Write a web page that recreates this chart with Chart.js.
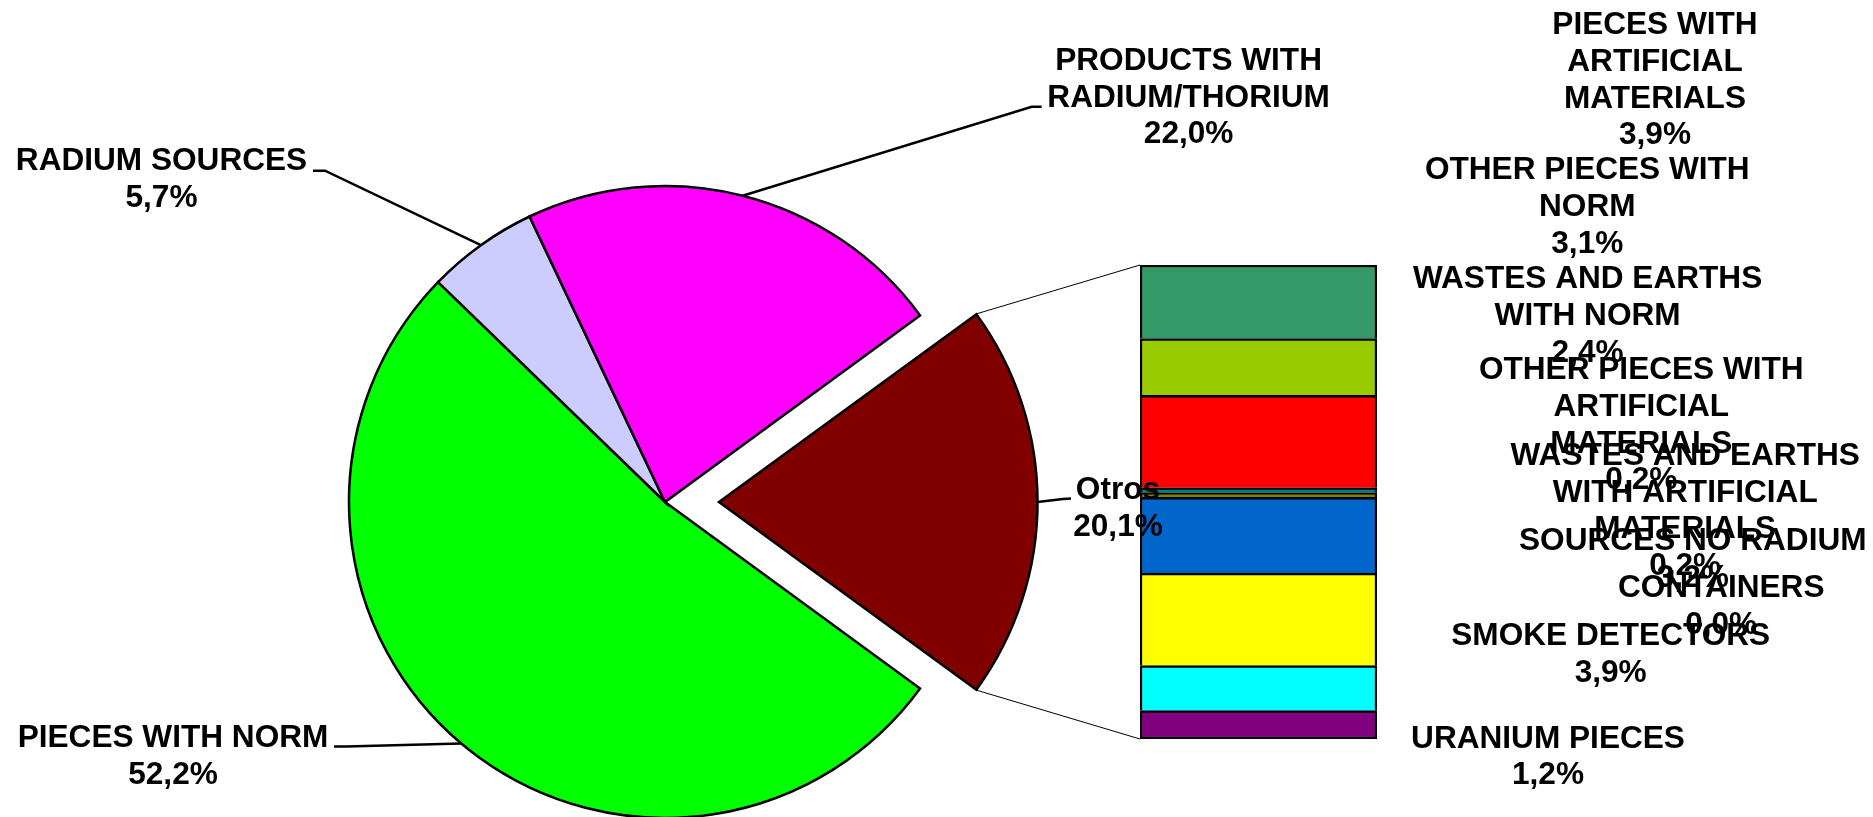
<!DOCTYPE html>
<html>
<head>
<meta charset="utf-8">
<script src="https://cdn.jsdelivr.net/npm/chart.js@4.4.1/dist/chart.umd.min.js"></script>
<style>
  html, body { margin: 0; padding: 0; background: #fff; }
  #wrap { position: relative; width: 1873px; height: 817px; }
  #wrap canvas { position: absolute; left: 0; top: 0; }
</style>
</head>
<body>
<div id="wrap">
  <canvas id="pieChart" width="1873" height="817"></canvas>
  <canvas id="barChart" width="1873" height="817"></canvas>
</div>
<script>
// main pie, clockwise starting with the exploded slice
const pieLabels = ['Otros', 'PIECES WITH NORM', 'RADIUM SOURCES', 'PRODUCTS WITH RADIUM/THORIUM'];
const pieValues = [20.1, 52.2, 5.7, 22.0];
const pieColors = ['#800000', '#00FF00', '#CCCCFF', '#FF00FF'];

// breakdown of "Otros", bottom to top of the stacked bar
const barLabels = [
  'URANIUM PIECES',
  '',
  'SMOKE DETECTORS',
  'SOURCES NO RADIUM',
  'CONTAINERS',
  'WASTES AND EARTHS WITH ARTIFICIAL MATERIALS',
  'OTHER PIECES WITH ARTIFICIAL MATERIALS',
  'PIECES WITH ARTIFICIAL MATERIALS',
  'WASTES AND EARTHS WITH NORM',
  'OTHER PIECES WITH NORM'
];
const barValues = [1.2, 1.9, 3.9, 3.2, 0.0, 0.2, 0.2, 3.9, 2.4, 3.1];
const barColors = ['#800080', '#00FFFF', '#FFFF00', '#0066CC', '#FF9900',
  '#808000', '#008080', '#FF0000', '#99CC00', '#339966'];

// layout (pixels)
const W = 1873, H = 817;
const PIE_CX = 665, PIE_CY = 502, PIE_R = 316, EXPLODE = 54;
const BAR_LEFT = 1140, BAR_RIGHT = 1377, BAR_TOP = 265, BAR_BOTTOM = 739;
const FONT = 'bold 31.6px "Liberation Sans", Arial, sans-serif';
const LINE_H = 36.7;
const WRAP_W = 360;

// label anchors: centre x, first baseline, leader start + elbow
const pieLabelPos = [
  { x: 1118, y: 499, lead: [[1071, 498.5], [1063, 499]] },
  { x: 173, y: 747, lead: [[334, 746.5], [346, 746.5]] },
  { x: 161.5, y: 170, lead: [[313, 170.7], [325, 170.7]] },
  { x: 1188.6, y: 70, lead: [[1041.7, 106.7], [1031.7, 106.7]] }
];
const barLabelPos = [
  { x: 1548, y: 747.7 },
  null,
  { x: 1610.7, y: 645 },
  { x: 1692.8, y: 550 },
  { x: 1721.2, y: 597.3 },
  { x: 1685.2, y: 465 },
  { x: 1641.3, y: 379.3 },
  { x: 1655, y: 34.3 },
  { x: 1587.6, y: 288.3 },
  { x: 1587.3, y: 179.3 }
];

const pieTotal = pieValues.reduce((a, b) => a + b, 0);
const barTotal = barValues.reduce((a, b) => a + b, 0);

function pct(v) {
  return v.toFixed(1).replace('.', ',') + '%';
}

function wrap(ctx, text, maxW) {
  const lines = [];
  let line = '';
  text.split(' ').forEach(w => {
    const test = line ? line + ' ' + w : w;
    if (line && ctx.measureText(test).width > maxW) {
      lines.push(line);
      line = w;
    } else {
      line = test;
    }
  });
  if (line) lines.push(line);
  return lines;
}

function drawLabel(ctx, name, value, pos) {
  const lines = wrap(ctx, name, WRAP_W).concat([pct(value)]);
  lines.forEach((l, i) => ctx.fillText(l, pos.x, pos.y + i * LINE_H));
}

// where a slice sits once drawn (includes the explode shift)
function arcGeom(arc) {
  const shift = (arc.options.offset || 0) / 4;
  const fix = 1 - Math.sin(Math.min(Math.PI, arc.circumference || 0));
  const mid = (arc.startAngle + arc.endAngle) / 2;
  return {
    cx: arc.x + Math.cos(mid) * shift,
    cy: arc.y + Math.sin(mid) * shift,
    r: arc.outerRadius + shift * fix,
    mid: mid
  };
}

const pieChart = new Chart(document.getElementById('pieChart'), {
  type: 'pie',
  data: {
    labels: pieLabels,
    datasets: [{
      data: pieValues,
      backgroundColor: pieColors,
      borderColor: '#000',
      borderWidth: 2.5,
      borderJoinStyle: 'miter',
      offset: pieValues.map((v, i) => i === 0 ? EXPLODE * 4 : 0),
      clip: false
    }]
  },
  options: {
    responsive: false,
    animation: false,
    radius: PIE_R,
    rotation: 90 - pieValues[0] / pieTotal * 180,
    layout: {
      padding: { left: 0, right: W - 2 * PIE_CX, top: 2 * PIE_CY - H, bottom: 0 }
    },
    plugins: { legend: { display: false }, tooltip: { enabled: false } }
  }
});

const labelPlugin = {
  id: 'pieOfBarLabels',
  afterDraw(chart) {
    const ctx = chart.ctx;
    ctx.save();

    // lines from the exploded slice to the bar
    const arcs = pieChart.getDatasetMeta(0).data;
    const g = arcGeom(arcs[0]);
    const topBar = chart.getDatasetMeta(barValues.length - 1).data[0];
    const bottomBar = chart.getDatasetMeta(0).data[0];
    const left = topBar.x - topBar.width / 2;
    ctx.strokeStyle = '#000';
    ctx.lineWidth = 1;
    ctx.beginPath();
    ctx.moveTo(g.cx + Math.cos(arcs[0].startAngle) * g.r, g.cy + Math.sin(arcs[0].startAngle) * g.r);
    ctx.lineTo(left, topBar.y);
    ctx.moveTo(g.cx + Math.cos(arcs[0].endAngle) * g.r, g.cy + Math.sin(arcs[0].endAngle) * g.r);
    ctx.lineTo(left, bottomBar.base);
    ctx.stroke();

    // leader lines for the pie labels
    ctx.lineWidth = 2.5;
    arcs.forEach((arc, i) => {
      const a = arcGeom(arc);
      const p = pieLabelPos[i];
      ctx.beginPath();
      ctx.moveTo(p.lead[0][0], p.lead[0][1]);
      ctx.lineTo(p.lead[1][0], p.lead[1][1]);
      ctx.lineTo(a.cx + Math.cos(a.mid) * a.r, a.cy + Math.sin(a.mid) * a.r);
      ctx.stroke();
    });

    ctx.font = FONT;
    ctx.fillStyle = '#000';
    ctx.textAlign = 'center';
    ctx.textBaseline = 'alphabetic';
    pieLabels.forEach((name, i) => drawLabel(ctx, name, pieValues[i], pieLabelPos[i]));
    barLabels.forEach((name, i) => {
      if (barLabelPos[i]) drawLabel(ctx, name, barValues[i], barLabelPos[i]);
    });
    ctx.restore();
  }
};

const barChart = new Chart(document.getElementById('barChart'), {
  type: 'bar',
  data: {
    labels: ['Otros'],
    datasets: barLabels.map((name, i) => ({
      label: name,
      data: [barValues[i]],
      backgroundColor: barColors[i],
      borderColor: '#000',
      borderWidth: 2.5,
      borderSkipped: i === 0 ? false : 'start',
      barPercentage: 1,
      categoryPercentage: 1
    }))
  },
  options: {
    responsive: false,
    animation: false,
    layout: {
      padding: { left: BAR_LEFT, right: W - BAR_RIGHT, top: BAR_TOP, bottom: H - BAR_BOTTOM }
    },
    scales: {
      x: { stacked: true, display: false },
      y: { stacked: true, display: false, min: 0, max: barTotal }
    },
    plugins: { legend: { display: false }, tooltip: { enabled: false } }
  },
  plugins: [labelPlugin]
});
</script>
</body>
</html>
